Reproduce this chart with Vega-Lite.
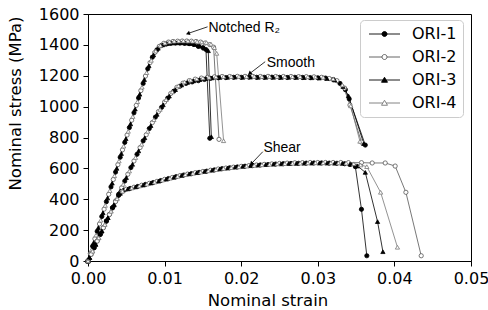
{
"$schema": "https://vega.github.io/schema/vega-lite/v6.json",
"width": 383, "height": 247,
"autosize": {"type": "none"},
"padding": {"left": 88, "top": 14, "right": 17, "bottom": 49},
"background": "white",
"config": {"view": {"stroke": "#000", "strokeWidth": 1}, "font": "DejaVu Sans"},
"datasets": {
"c": [
{"s":"N","o":"ORI-1","x":0,"y":0},{"s":"N","o":"ORI-1","x":0.0006,"y":96},{"s":"N","o":"ORI-1","x":0.0012,"y":192},{"s":"N","o":"ORI-1","x":0.0018,"y":288},{"s":"N","o":"ORI-1","x":0.0024,"y":384},{"s":"N","o":"ORI-1","x":0.003,"y":480},{"s":"N","o":"ORI-1","x":0.0036,"y":576},{"s":"N","o":"ORI-1","x":0.0042,"y":672},{"s":"N","o":"ORI-1","x":0.0048,"y":768},{"s":"N","o":"ORI-1","x":0.0054,"y":864},{"s":"N","o":"ORI-1","x":0.006,"y":960},{"s":"N","o":"ORI-1","x":0.0066,"y":1056},{"s":"N","o":"ORI-1","x":0.0072,"y":1150},{"s":"N","o":"ORI-1","x":0.0078,"y":1245},{"s":"N","o":"ORI-1","x":0.0084,"y":1320},{"s":"N","o":"ORI-1","x":0.009,"y":1368},{"s":"N","o":"ORI-1","x":0.0096,"y":1396},{"s":"N","o":"ORI-1","x":0.0102,"y":1405},{"s":"N","o":"ORI-1","x":0.0108,"y":1410},{"s":"N","o":"ORI-1","x":0.0114,"y":1412},{"s":"N","o":"ORI-1","x":0.012,"y":1412},{"s":"N","o":"ORI-1","x":0.0126,"y":1410},{"s":"N","o":"ORI-1","x":0.0132,"y":1408},{"s":"N","o":"ORI-1","x":0.0138,"y":1404},{"s":"N","o":"ORI-1","x":0.0144,"y":1390},{"s":"N","o":"ORI-1","x":0.015,"y":1382},{"s":"N","o":"ORI-1","x":0.0154,"y":1370},{"s":"N","o":"ORI-1","x":0.0159,"y":795},
{"s":"N","o":"ORI-2","x":0,"y":0},{"s":"N","o":"ORI-2","x":0.0003,"y":48},{"s":"N","o":"ORI-2","x":0.0009,"y":144},{"s":"N","o":"ORI-2","x":0.0015,"y":240},{"s":"N","o":"ORI-2","x":0.0021,"y":336},{"s":"N","o":"ORI-2","x":0.0027,"y":432},{"s":"N","o":"ORI-2","x":0.0033,"y":528},{"s":"N","o":"ORI-2","x":0.0039,"y":624},{"s":"N","o":"ORI-2","x":0.0045,"y":720},{"s":"N","o":"ORI-2","x":0.0051,"y":816},{"s":"N","o":"ORI-2","x":0.0057,"y":912},{"s":"N","o":"ORI-2","x":0.0063,"y":1008},{"s":"N","o":"ORI-2","x":0.0069,"y":1104},{"s":"N","o":"ORI-2","x":0.0075,"y":1198},{"s":"N","o":"ORI-2","x":0.0081,"y":1285},{"s":"N","o":"ORI-2","x":0.0087,"y":1350},{"s":"N","o":"ORI-2","x":0.0093,"y":1390},{"s":"N","o":"ORI-2","x":0.0099,"y":1410},{"s":"N","o":"ORI-2","x":0.0105,"y":1418},{"s":"N","o":"ORI-2","x":0.0111,"y":1422},{"s":"N","o":"ORI-2","x":0.0117,"y":1424},{"s":"N","o":"ORI-2","x":0.0123,"y":1425},{"s":"N","o":"ORI-2","x":0.0129,"y":1425},{"s":"N","o":"ORI-2","x":0.0135,"y":1424},{"s":"N","o":"ORI-2","x":0.0141,"y":1422},{"s":"N","o":"ORI-2","x":0.0147,"y":1418},{"s":"N","o":"ORI-2","x":0.0153,"y":1412},{"s":"N","o":"ORI-2","x":0.0159,"y":1402},{"s":"N","o":"ORI-2","x":0.0164,"y":1385},{"s":"N","o":"ORI-2","x":0.0171,"y":788},
{"s":"N","o":"ORI-3","x":0,"y":0},{"s":"N","o":"ORI-3","x":0.00015,"y":24},{"s":"N","o":"ORI-3","x":0.00075,"y":120},{"s":"N","o":"ORI-3","x":0.00135,"y":216},{"s":"N","o":"ORI-3","x":0.00195,"y":312},{"s":"N","o":"ORI-3","x":0.00255,"y":408},{"s":"N","o":"ORI-3","x":0.00315,"y":504},{"s":"N","o":"ORI-3","x":0.00375,"y":600},{"s":"N","o":"ORI-3","x":0.00435,"y":696},{"s":"N","o":"ORI-3","x":0.00495,"y":792},{"s":"N","o":"ORI-3","x":0.00555,"y":888},{"s":"N","o":"ORI-3","x":0.00615,"y":984},{"s":"N","o":"ORI-3","x":0.00675,"y":1080},{"s":"N","o":"ORI-3","x":0.00735,"y":1175},{"s":"N","o":"ORI-3","x":0.00795,"y":1265},{"s":"N","o":"ORI-3","x":0.00855,"y":1335},{"s":"N","o":"ORI-3","x":0.00915,"y":1378},{"s":"N","o":"ORI-3","x":0.00975,"y":1400},{"s":"N","o":"ORI-3","x":0.01035,"y":1408},{"s":"N","o":"ORI-3","x":0.01095,"y":1412},{"s":"N","o":"ORI-3","x":0.01155,"y":1413},{"s":"N","o":"ORI-3","x":0.01215,"y":1413},{"s":"N","o":"ORI-3","x":0.01275,"y":1411},{"s":"N","o":"ORI-3","x":0.01335,"y":1408},{"s":"N","o":"ORI-3","x":0.01395,"y":1402},{"s":"N","o":"ORI-3","x":0.0146,"y":1392},{"s":"N","o":"ORI-3","x":0.0152,"y":1378},{"s":"N","o":"ORI-3","x":0.0157,"y":1362},{"s":"N","o":"ORI-3","x":0.0161,"y":805},
{"s":"N","o":"ORI-4","x":0,"y":0},{"s":"N","o":"ORI-4","x":0.00045,"y":72},{"s":"N","o":"ORI-4","x":0.00105,"y":168},{"s":"N","o":"ORI-4","x":0.00165,"y":264},{"s":"N","o":"ORI-4","x":0.00225,"y":360},{"s":"N","o":"ORI-4","x":0.00285,"y":456},{"s":"N","o":"ORI-4","x":0.00345,"y":552},{"s":"N","o":"ORI-4","x":0.00405,"y":648},{"s":"N","o":"ORI-4","x":0.00465,"y":744},{"s":"N","o":"ORI-4","x":0.00525,"y":840},{"s":"N","o":"ORI-4","x":0.00585,"y":936},{"s":"N","o":"ORI-4","x":0.00645,"y":1032},{"s":"N","o":"ORI-4","x":0.00705,"y":1126},{"s":"N","o":"ORI-4","x":0.00765,"y":1220},{"s":"N","o":"ORI-4","x":0.00825,"y":1300},{"s":"N","o":"ORI-4","x":0.00885,"y":1360},{"s":"N","o":"ORI-4","x":0.00945,"y":1396},{"s":"N","o":"ORI-4","x":0.01005,"y":1412},{"s":"N","o":"ORI-4","x":0.01065,"y":1420},{"s":"N","o":"ORI-4","x":0.01125,"y":1424},{"s":"N","o":"ORI-4","x":0.01185,"y":1426},{"s":"N","o":"ORI-4","x":0.01245,"y":1426},{"s":"N","o":"ORI-4","x":0.01305,"y":1425},{"s":"N","o":"ORI-4","x":0.01365,"y":1424},{"s":"N","o":"ORI-4","x":0.01425,"y":1422},{"s":"N","o":"ORI-4","x":0.01485,"y":1419},{"s":"N","o":"ORI-4","x":0.01545,"y":1415},{"s":"N","o":"ORI-4","x":0.01605,"y":1405},{"s":"N","o":"ORI-4","x":0.0165,"y":1382},{"s":"N","o":"ORI-4","x":0.0168,"y":1345},{"s":"N","o":"ORI-4","x":0.0177,"y":779},
{"s":"S","o":"ORI-1","x":0,"y":0},{"s":"S","o":"ORI-1","x":0.0008,"y":86},{"s":"S","o":"ORI-1","x":0.0016,"y":173},{"s":"S","o":"ORI-1","x":0.0024,"y":259},{"s":"S","o":"ORI-1","x":0.0032,"y":346},{"s":"S","o":"ORI-1","x":0.004,"y":432},{"s":"S","o":"ORI-1","x":0.0048,"y":518},{"s":"S","o":"ORI-1","x":0.0056,"y":605},{"s":"S","o":"ORI-1","x":0.0064,"y":691},{"s":"S","o":"ORI-1","x":0.0072,"y":778},{"s":"S","o":"ORI-1","x":0.008,"y":858},{"s":"S","o":"ORI-1","x":0.0088,"y":932},{"s":"S","o":"ORI-1","x":0.0096,"y":995},{"s":"S","o":"ORI-1","x":0.0104,"y":1055},{"s":"S","o":"ORI-1","x":0.0112,"y":1100},{"s":"S","o":"ORI-1","x":0.012,"y":1132},{"s":"S","o":"ORI-1","x":0.0128,"y":1150},{"s":"S","o":"ORI-1","x":0.0136,"y":1160},{"s":"S","o":"ORI-1","x":0.0144,"y":1168},{"s":"S","o":"ORI-1","x":0.0152,"y":1176},{"s":"S","o":"ORI-1","x":0.016,"y":1183},{"s":"S","o":"ORI-1","x":0.017,"y":1187},{"s":"S","o":"ORI-1","x":0.018,"y":1188},{"s":"S","o":"ORI-1","x":0.019,"y":1190},{"s":"S","o":"ORI-1","x":0.02,"y":1190},{"s":"S","o":"ORI-1","x":0.021,"y":1191},{"s":"S","o":"ORI-1","x":0.022,"y":1190},{"s":"S","o":"ORI-1","x":0.023,"y":1190},{"s":"S","o":"ORI-1","x":0.024,"y":1191},{"s":"S","o":"ORI-1","x":0.025,"y":1190},{"s":"S","o":"ORI-1","x":0.026,"y":1189},{"s":"S","o":"ORI-1","x":0.027,"y":1190},{"s":"S","o":"ORI-1","x":0.028,"y":1189},{"s":"S","o":"ORI-1","x":0.029,"y":1188},{"s":"S","o":"ORI-1","x":0.03,"y":1187},{"s":"S","o":"ORI-1","x":0.031,"y":1185},{"s":"S","o":"ORI-1","x":0.032,"y":1176},{"s":"S","o":"ORI-1","x":0.0329,"y":1150},{"s":"S","o":"ORI-1","x":0.0336,"y":1110},{"s":"S","o":"ORI-1","x":0.0341,"y":1050},{"s":"S","o":"ORI-1","x":0.0362,"y":751},
{"s":"S","o":"ORI-2","x":0,"y":0},{"s":"S","o":"ORI-2","x":0.0004,"y":43},{"s":"S","o":"ORI-2","x":0.0012,"y":130},{"s":"S","o":"ORI-2","x":0.002,"y":216},{"s":"S","o":"ORI-2","x":0.0028,"y":302},{"s":"S","o":"ORI-2","x":0.0036,"y":389},{"s":"S","o":"ORI-2","x":0.0044,"y":475},{"s":"S","o":"ORI-2","x":0.0052,"y":562},{"s":"S","o":"ORI-2","x":0.006,"y":648},{"s":"S","o":"ORI-2","x":0.0068,"y":735},{"s":"S","o":"ORI-2","x":0.0076,"y":818},{"s":"S","o":"ORI-2","x":0.0084,"y":897},{"s":"S","o":"ORI-2","x":0.0092,"y":968},{"s":"S","o":"ORI-2","x":0.01,"y":1030},{"s":"S","o":"ORI-2","x":0.0108,"y":1085},{"s":"S","o":"ORI-2","x":0.0116,"y":1125},{"s":"S","o":"ORI-2","x":0.0124,"y":1152},{"s":"S","o":"ORI-2","x":0.0132,"y":1168},{"s":"S","o":"ORI-2","x":0.014,"y":1178},{"s":"S","o":"ORI-2","x":0.0148,"y":1185},{"s":"S","o":"ORI-2","x":0.0156,"y":1190},{"s":"S","o":"ORI-2","x":0.0165,"y":1193},{"s":"S","o":"ORI-2","x":0.0175,"y":1195},{"s":"S","o":"ORI-2","x":0.0185,"y":1195},{"s":"S","o":"ORI-2","x":0.0195,"y":1196},{"s":"S","o":"ORI-2","x":0.0205,"y":1196},{"s":"S","o":"ORI-2","x":0.0215,"y":1196},{"s":"S","o":"ORI-2","x":0.0225,"y":1195},{"s":"S","o":"ORI-2","x":0.0235,"y":1196},{"s":"S","o":"ORI-2","x":0.0245,"y":1195},{"s":"S","o":"ORI-2","x":0.0255,"y":1195},{"s":"S","o":"ORI-2","x":0.0265,"y":1195},{"s":"S","o":"ORI-2","x":0.0275,"y":1194},{"s":"S","o":"ORI-2","x":0.0285,"y":1194},{"s":"S","o":"ORI-2","x":0.0295,"y":1193},{"s":"S","o":"ORI-2","x":0.0305,"y":1190},{"s":"S","o":"ORI-2","x":0.0315,"y":1182},{"s":"S","o":"ORI-2","x":0.0325,"y":1168},{"s":"S","o":"ORI-2","x":0.0335,"y":1120},{"s":"S","o":"ORI-2","x":0.0342,"y":1010},{"s":"S","o":"ORI-2","x":0.0357,"y":770},
{"s":"S","o":"ORI-3","x":0,"y":0},{"s":"S","o":"ORI-3","x":0.0002,"y":22},{"s":"S","o":"ORI-3","x":0.001,"y":108},{"s":"S","o":"ORI-3","x":0.0018,"y":194},{"s":"S","o":"ORI-3","x":0.0026,"y":281},{"s":"S","o":"ORI-3","x":0.0034,"y":367},{"s":"S","o":"ORI-3","x":0.0042,"y":454},{"s":"S","o":"ORI-3","x":0.005,"y":540},{"s":"S","o":"ORI-3","x":0.0058,"y":626},{"s":"S","o":"ORI-3","x":0.0066,"y":713},{"s":"S","o":"ORI-3","x":0.0074,"y":798},{"s":"S","o":"ORI-3","x":0.0082,"y":877},{"s":"S","o":"ORI-3","x":0.009,"y":950},{"s":"S","o":"ORI-3","x":0.0098,"y":1012},{"s":"S","o":"ORI-3","x":0.0106,"y":1068},{"s":"S","o":"ORI-3","x":0.0114,"y":1110},{"s":"S","o":"ORI-3","x":0.0122,"y":1140},{"s":"S","o":"ORI-3","x":0.013,"y":1157},{"s":"S","o":"ORI-3","x":0.0138,"y":1167},{"s":"S","o":"ORI-3","x":0.0146,"y":1175},{"s":"S","o":"ORI-3","x":0.0154,"y":1182},{"s":"S","o":"ORI-3","x":0.0162,"y":1186},{"s":"S","o":"ORI-3","x":0.0172,"y":1189},{"s":"S","o":"ORI-3","x":0.0182,"y":1190},{"s":"S","o":"ORI-3","x":0.0192,"y":1191},{"s":"S","o":"ORI-3","x":0.0202,"y":1190},{"s":"S","o":"ORI-3","x":0.0212,"y":1191},{"s":"S","o":"ORI-3","x":0.0222,"y":1190},{"s":"S","o":"ORI-3","x":0.0232,"y":1190},{"s":"S","o":"ORI-3","x":0.0242,"y":1190},{"s":"S","o":"ORI-3","x":0.0252,"y":1189},{"s":"S","o":"ORI-3","x":0.0262,"y":1190},{"s":"S","o":"ORI-3","x":0.0272,"y":1189},{"s":"S","o":"ORI-3","x":0.0282,"y":1188},{"s":"S","o":"ORI-3","x":0.0292,"y":1187},{"s":"S","o":"ORI-3","x":0.0302,"y":1185},{"s":"S","o":"ORI-3","x":0.0312,"y":1182},{"s":"S","o":"ORI-3","x":0.0322,"y":1172},{"s":"S","o":"ORI-3","x":0.0333,"y":1130},{"s":"S","o":"ORI-3","x":0.034,"y":1070},{"s":"S","o":"ORI-3","x":0.036,"y":760},
{"s":"S","o":"ORI-4","x":0,"y":0},{"s":"S","o":"ORI-4","x":0.0006,"y":65},{"s":"S","o":"ORI-4","x":0.0014,"y":151},{"s":"S","o":"ORI-4","x":0.0022,"y":238},{"s":"S","o":"ORI-4","x":0.003,"y":324},{"s":"S","o":"ORI-4","x":0.0038,"y":410},{"s":"S","o":"ORI-4","x":0.0046,"y":497},{"s":"S","o":"ORI-4","x":0.0054,"y":583},{"s":"S","o":"ORI-4","x":0.0062,"y":670},{"s":"S","o":"ORI-4","x":0.007,"y":756},{"s":"S","o":"ORI-4","x":0.0078,"y":840},{"s":"S","o":"ORI-4","x":0.0086,"y":915},{"s":"S","o":"ORI-4","x":0.0094,"y":982},{"s":"S","o":"ORI-4","x":0.0102,"y":1045},{"s":"S","o":"ORI-4","x":0.011,"y":1095},{"s":"S","o":"ORI-4","x":0.0118,"y":1135},{"s":"S","o":"ORI-4","x":0.0126,"y":1160},{"s":"S","o":"ORI-4","x":0.0134,"y":1172},{"s":"S","o":"ORI-4","x":0.0142,"y":1180},{"s":"S","o":"ORI-4","x":0.015,"y":1186},{"s":"S","o":"ORI-4","x":0.0158,"y":1190},{"s":"S","o":"ORI-4","x":0.0167,"y":1193},{"s":"S","o":"ORI-4","x":0.0177,"y":1195},{"s":"S","o":"ORI-4","x":0.0187,"y":1195},{"s":"S","o":"ORI-4","x":0.0197,"y":1196},{"s":"S","o":"ORI-4","x":0.0207,"y":1195},{"s":"S","o":"ORI-4","x":0.0217,"y":1196},{"s":"S","o":"ORI-4","x":0.0227,"y":1195},{"s":"S","o":"ORI-4","x":0.0237,"y":1195},{"s":"S","o":"ORI-4","x":0.0247,"y":1195},{"s":"S","o":"ORI-4","x":0.0257,"y":1194},{"s":"S","o":"ORI-4","x":0.0267,"y":1194},{"s":"S","o":"ORI-4","x":0.0277,"y":1194},{"s":"S","o":"ORI-4","x":0.0287,"y":1193},{"s":"S","o":"ORI-4","x":0.0297,"y":1192},{"s":"S","o":"ORI-4","x":0.0307,"y":1190},{"s":"S","o":"ORI-4","x":0.032,"y":1180},{"s":"S","o":"ORI-4","x":0.0332,"y":1140},{"s":"S","o":"ORI-4","x":0.0343,"y":1005},{"s":"S","o":"ORI-4","x":0.0355,"y":775},
{"s":"H","o":"ORI-1","x":0,"y":0},{"s":"H","o":"ORI-1","x":0.0008,"y":86},{"s":"H","o":"ORI-1","x":0.0016,"y":172},{"s":"H","o":"ORI-1","x":0.0024,"y":258},{"s":"H","o":"ORI-1","x":0.0032,"y":344},{"s":"H","o":"ORI-1","x":0.004,"y":425},{"s":"H","o":"ORI-1","x":0.0047,"y":458},{"s":"H","o":"ORI-1","x":0.0055,"y":470},{"s":"H","o":"ORI-1","x":0.0065,"y":483},{"s":"H","o":"ORI-1","x":0.0075,"y":496},{"s":"H","o":"ORI-1","x":0.0085,"y":508},{"s":"H","o":"ORI-1","x":0.0095,"y":521},{"s":"H","o":"ORI-1","x":0.0105,"y":534},{"s":"H","o":"ORI-1","x":0.0115,"y":546},{"s":"H","o":"ORI-1","x":0.0125,"y":557},{"s":"H","o":"ORI-1","x":0.0135,"y":566},{"s":"H","o":"ORI-1","x":0.0145,"y":574},{"s":"H","o":"ORI-1","x":0.0155,"y":582},{"s":"H","o":"ORI-1","x":0.0165,"y":590},{"s":"H","o":"ORI-1","x":0.0175,"y":598},{"s":"H","o":"ORI-1","x":0.0185,"y":604},{"s":"H","o":"ORI-1","x":0.0195,"y":609},{"s":"H","o":"ORI-1","x":0.0205,"y":614},{"s":"H","o":"ORI-1","x":0.0215,"y":618},{"s":"H","o":"ORI-1","x":0.0225,"y":622},{"s":"H","o":"ORI-1","x":0.0235,"y":625},{"s":"H","o":"ORI-1","x":0.0245,"y":628},{"s":"H","o":"ORI-1","x":0.0255,"y":630},{"s":"H","o":"ORI-1","x":0.0265,"y":632},{"s":"H","o":"ORI-1","x":0.0275,"y":633},{"s":"H","o":"ORI-1","x":0.0285,"y":634},{"s":"H","o":"ORI-1","x":0.0295,"y":635},{"s":"H","o":"ORI-1","x":0.0305,"y":635},{"s":"H","o":"ORI-1","x":0.0315,"y":634},{"s":"H","o":"ORI-1","x":0.0325,"y":633},{"s":"H","o":"ORI-1","x":0.0335,"y":630},{"s":"H","o":"ORI-1","x":0.0342,"y":625},{"s":"H","o":"ORI-1","x":0.0349,"y":611},{"s":"H","o":"ORI-1","x":0.0357,"y":335},{"s":"H","o":"ORI-1","x":0.0364,"y":34},
{"s":"H","o":"ORI-2","x":0,"y":0},{"s":"H","o":"ORI-2","x":0.0004,"y":43},{"s":"H","o":"ORI-2","x":0.0012,"y":129},{"s":"H","o":"ORI-2","x":0.002,"y":215},{"s":"H","o":"ORI-2","x":0.0028,"y":301},{"s":"H","o":"ORI-2","x":0.0036,"y":385},{"s":"H","o":"ORI-2","x":0.0044,"y":448},{"s":"H","o":"ORI-2","x":0.005,"y":465},{"s":"H","o":"ORI-2","x":0.006,"y":478},{"s":"H","o":"ORI-2","x":0.007,"y":491},{"s":"H","o":"ORI-2","x":0.008,"y":503},{"s":"H","o":"ORI-2","x":0.009,"y":516},{"s":"H","o":"ORI-2","x":0.01,"y":529},{"s":"H","o":"ORI-2","x":0.011,"y":541},{"s":"H","o":"ORI-2","x":0.012,"y":553},{"s":"H","o":"ORI-2","x":0.013,"y":563},{"s":"H","o":"ORI-2","x":0.014,"y":572},{"s":"H","o":"ORI-2","x":0.015,"y":580},{"s":"H","o":"ORI-2","x":0.016,"y":588},{"s":"H","o":"ORI-2","x":0.017,"y":596},{"s":"H","o":"ORI-2","x":0.018,"y":602},{"s":"H","o":"ORI-2","x":0.019,"y":608},{"s":"H","o":"ORI-2","x":0.02,"y":613},{"s":"H","o":"ORI-2","x":0.021,"y":618},{"s":"H","o":"ORI-2","x":0.022,"y":622},{"s":"H","o":"ORI-2","x":0.023,"y":626},{"s":"H","o":"ORI-2","x":0.024,"y":629},{"s":"H","o":"ORI-2","x":0.025,"y":632},{"s":"H","o":"ORI-2","x":0.026,"y":634},{"s":"H","o":"ORI-2","x":0.027,"y":636},{"s":"H","o":"ORI-2","x":0.028,"y":637},{"s":"H","o":"ORI-2","x":0.029,"y":638},{"s":"H","o":"ORI-2","x":0.03,"y":638},{"s":"H","o":"ORI-2","x":0.031,"y":638},{"s":"H","o":"ORI-2","x":0.032,"y":638},{"s":"H","o":"ORI-2","x":0.033,"y":638},{"s":"H","o":"ORI-2","x":0.034,"y":637},{"s":"H","o":"ORI-2","x":0.0357,"y":637},{"s":"H","o":"ORI-2","x":0.0371,"y":635},{"s":"H","o":"ORI-2","x":0.0388,"y":635},{"s":"H","o":"ORI-2","x":0.0401,"y":615},{"s":"H","o":"ORI-2","x":0.0415,"y":445},{"s":"H","o":"ORI-2","x":0.0435,"y":34},
{"s":"H","o":"ORI-3","x":0,"y":0},{"s":"H","o":"ORI-3","x":0.0002,"y":22},{"s":"H","o":"ORI-3","x":0.001,"y":108},{"s":"H","o":"ORI-3","x":0.0018,"y":194},{"s":"H","o":"ORI-3","x":0.0026,"y":280},{"s":"H","o":"ORI-3","x":0.0034,"y":362},{"s":"H","o":"ORI-3","x":0.0042,"y":438},{"s":"H","o":"ORI-3","x":0.0052,"y":467},{"s":"H","o":"ORI-3","x":0.0062,"y":480},{"s":"H","o":"ORI-3","x":0.0072,"y":492},{"s":"H","o":"ORI-3","x":0.0082,"y":505},{"s":"H","o":"ORI-3","x":0.0092,"y":517},{"s":"H","o":"ORI-3","x":0.0102,"y":530},{"s":"H","o":"ORI-3","x":0.0112,"y":542},{"s":"H","o":"ORI-3","x":0.0122,"y":554},{"s":"H","o":"ORI-3","x":0.0132,"y":564},{"s":"H","o":"ORI-3","x":0.0142,"y":572},{"s":"H","o":"ORI-3","x":0.0152,"y":580},{"s":"H","o":"ORI-3","x":0.0162,"y":588},{"s":"H","o":"ORI-3","x":0.0172,"y":596},{"s":"H","o":"ORI-3","x":0.0182,"y":602},{"s":"H","o":"ORI-3","x":0.0192,"y":608},{"s":"H","o":"ORI-3","x":0.0202,"y":613},{"s":"H","o":"ORI-3","x":0.0212,"y":617},{"s":"H","o":"ORI-3","x":0.0222,"y":621},{"s":"H","o":"ORI-3","x":0.0232,"y":624},{"s":"H","o":"ORI-3","x":0.0242,"y":627},{"s":"H","o":"ORI-3","x":0.0252,"y":629},{"s":"H","o":"ORI-3","x":0.0262,"y":631},{"s":"H","o":"ORI-3","x":0.0272,"y":632},{"s":"H","o":"ORI-3","x":0.0282,"y":633},{"s":"H","o":"ORI-3","x":0.0292,"y":634},{"s":"H","o":"ORI-3","x":0.0302,"y":634},{"s":"H","o":"ORI-3","x":0.0312,"y":634},{"s":"H","o":"ORI-3","x":0.0322,"y":633},{"s":"H","o":"ORI-3","x":0.0332,"y":632},{"s":"H","o":"ORI-3","x":0.0342,"y":628},{"s":"H","o":"ORI-3","x":0.0352,"y":615},{"s":"H","o":"ORI-3","x":0.0362,"y":574},{"s":"H","o":"ORI-3","x":0.0378,"y":255},{"s":"H","o":"ORI-3","x":0.0385,"y":60},
{"s":"H","o":"ORI-4","x":0,"y":0},{"s":"H","o":"ORI-4","x":0.0006,"y":64},{"s":"H","o":"ORI-4","x":0.0014,"y":150},{"s":"H","o":"ORI-4","x":0.0022,"y":236},{"s":"H","o":"ORI-4","x":0.003,"y":322},{"s":"H","o":"ORI-4","x":0.0038,"y":403},{"s":"H","o":"ORI-4","x":0.0045,"y":452},{"s":"H","o":"ORI-4","x":0.0057,"y":473},{"s":"H","o":"ORI-4","x":0.0067,"y":486},{"s":"H","o":"ORI-4","x":0.0077,"y":498},{"s":"H","o":"ORI-4","x":0.0087,"y":511},{"s":"H","o":"ORI-4","x":0.0097,"y":524},{"s":"H","o":"ORI-4","x":0.0107,"y":536},{"s":"H","o":"ORI-4","x":0.0117,"y":548},{"s":"H","o":"ORI-4","x":0.0127,"y":559},{"s":"H","o":"ORI-4","x":0.0137,"y":568},{"s":"H","o":"ORI-4","x":0.0147,"y":576},{"s":"H","o":"ORI-4","x":0.0157,"y":584},{"s":"H","o":"ORI-4","x":0.0167,"y":592},{"s":"H","o":"ORI-4","x":0.0177,"y":599},{"s":"H","o":"ORI-4","x":0.0187,"y":605},{"s":"H","o":"ORI-4","x":0.0197,"y":610},{"s":"H","o":"ORI-4","x":0.0207,"y":615},{"s":"H","o":"ORI-4","x":0.0217,"y":619},{"s":"H","o":"ORI-4","x":0.0227,"y":623},{"s":"H","o":"ORI-4","x":0.0237,"y":626},{"s":"H","o":"ORI-4","x":0.0247,"y":629},{"s":"H","o":"ORI-4","x":0.0257,"y":631},{"s":"H","o":"ORI-4","x":0.0267,"y":633},{"s":"H","o":"ORI-4","x":0.0277,"y":634},{"s":"H","o":"ORI-4","x":0.0287,"y":635},{"s":"H","o":"ORI-4","x":0.0297,"y":636},{"s":"H","o":"ORI-4","x":0.0307,"y":636},{"s":"H","o":"ORI-4","x":0.0317,"y":636},{"s":"H","o":"ORI-4","x":0.0327,"y":635},{"s":"H","o":"ORI-4","x":0.0337,"y":634},{"s":"H","o":"ORI-4","x":0.0347,"y":630},{"s":"H","o":"ORI-4","x":0.0356,"y":622},{"s":"H","o":"ORI-4","x":0.0364,"y":611},{"s":"H","o":"ORI-4","x":0.0382,"y":445},{"s":"H","o":"ORI-4","x":0.0404,"y":89}
],
"a": [
{"k":"N","p":"text","label":"Notched R₂","x":0.01572,"y":1481},
{"k":"S","p":"text","label":"Smooth","x":0.02334,"y":1258},
{"k":"H","p":"text","label":"Shear","x":0.0229,"y":708},
{"k":"N","p":"line","x":0.01561,"y":1517,"xe":0.01312,"ye":1475},
{"k":"S","p":"line","x":0.02313,"y":1291,"xe":0.02116,"ye":1216},
{"k":"H","p":"line","x":0.02282,"y":708,"xe":0.02138,"ye":633},
{"k":"N","p":"head","x":0.01312,"y":1475},
{"k":"S","p":"head","x":0.02116,"y":1216},
{"k":"H","p":"head","x":0.02138,"y":633}
]
},
"encoding": {
"x": {"field": "x", "type": "quantitative", "scale": {"domain": [0, 0.05], "nice": false},
 "axis": {"title": "Nominal strain", "values": [0, 0.01, 0.02, 0.03, 0.04, 0.05], "format": ".2f", "grid": false, "labelOverlap": false,
  "labelFont": "DejaVu Sans", "labelFontSize": 16, "labelColor": "#000", "labelPadding": 4.5, "tickSize": 5, "tickColor": "#000", "tickWidth": 1,
  "domainColor": "#000", "domainWidth": 1, "titleFont": "DejaVu Sans", "titleFontSize": 16.5, "titleFontWeight": "normal", "titleColor": "#000",
  "titleX": 179.5, "titleY": 44, "titleBaseline": "alphabetic", "titleAlign": "center", "labelFlush": false}},
"y": {"field": "y", "type": "quantitative", "scale": {"domain": [0, 1600], "nice": false},
 "axis": {"title": "Nominal stress (MPa)", "values": [0, 200, 400, 600, 800, 1000, 1200, 1400, 1600], "format": "d", "grid": false, "labelOverlap": false,
  "labelFont": "DejaVu Sans", "labelFontSize": 16, "labelColor": "#000", "labelPadding": 4, "tickSize": 5, "tickColor": "#000", "tickWidth": 1,
  "domainColor": "#000", "domainWidth": 1, "titleFont": "DejaVu Sans", "titleFontSize": 16.5, "titleFontWeight": "normal", "titleColor": "#000",
  "titleX": -67.5, "titleY": 89, "titleBaseline": "alphabetic", "titleAlign": "center", "titleAngle": -90, "labelFlush": false}}
},
"layer": [
{
"data": {"name": "c"},
"mark": {"type": "line", "strokeWidth": 0.8},
"encoding": {
"detail": {"field": "s"},
"color": {"field": "o", "type": "nominal",
 "scale": {"domain": ["ORI-1", "ORI-2", "ORI-3", "ORI-4"], "range": ["#000000", "#555555", "#000000", "#777777"]},
 "legend": {"title": null, "orient": "none", "legendX": 272, "legendY": 6, "padding": 6, "rowPadding": 7,
  "symbolSize": 100, "labelOffset": 30, "labelFont": "DejaVu Sans", "labelFontSize": 16, "labelColor": "#000",
  "strokeColor": "#cccccc", "fillColor": "#ffffff", "cornerRadius": 4,
  "encode": {"symbols": {"update": {
   "shape": {"signal": "datum.value === 'ORI-1' ? 'M-1,0H5.2M2.6,0A0.5,0.5,0,1,1,1.6,0A0.5,0.5,0,1,1,2.6,0Z' : datum.value === 'ORI-2' ? 'M-1,0H1.6M2.6,0H5.2M2.6,0A0.5,0.5,0,1,1,1.6,0A0.5,0.5,0,1,1,2.6,0Z' : datum.value === 'ORI-3' ? 'M-1,0H5.2M2.1,-0.55L2.7,0.45L1.5,0.45Z' : 'M-1,0H1.77M2.43,0H5.2M2.1,-0.55L2.7,0.45L1.5,0.45Z'"},
   "fill": {"signal": "datum.value === 'ORI-1' || datum.value === 'ORI-3' ? '#000000' : '#ffffff'"},
   "stroke": {"signal": "datum.value === 'ORI-2' ? '#555555' : datum.value === 'ORI-4' ? '#777777' : '#000000'"},
   "strokeWidth": {"value": 0.9},
   "size": {"value": 100},
   "opacity": {"value": 1}
  }}}}}
}
},
{
"data": {"name": "c"},
"mark": {"type": "point", "size": 18, "strokeWidth": 0.8, "opacity": 1},
"encoding": {
"shape": {"field": "o", "type": "nominal", "scale": {"domain": ["ORI-1", "ORI-2", "ORI-3", "ORI-4"], "range": ["circle", "circle", "triangle-up", "triangle-up"]}, "legend": null},
"fill": {"field": "o", "type": "nominal", "scale": {"domain": ["ORI-1", "ORI-2", "ORI-3", "ORI-4"], "range": ["#000000", "#ffffff", "#000000", "#ffffff"]}, "legend": null},
"stroke": {"field": "o", "type": "nominal", "scale": {"domain": ["ORI-1", "ORI-2", "ORI-3", "ORI-4"], "range": ["#000000", "#555555", "#000000", "#777777"]}, "legend": null}
}
},
{
"data": {"name": "a"},
"transform": [{"filter": "datum.p === 'line'"}],
"mark": {"type": "rule", "color": "#000", "strokeWidth": 0.8},
"encoding": {"x2": {"field": "xe"}, "y2": {"field": "ye"}}
},
{
"data": {"name": "a"},
"transform": [{"filter": "datum.p === 'head' && datum.k === 'N'"}],
"mark": {"type": "point", "shape": "triangle", "filled": true, "color": "#000", "size": 22, "angle": 251, "opacity": 1}
},
{
"data": {"name": "a"},
"transform": [{"filter": "datum.p === 'head' && datum.k === 'S'"}],
"mark": {"type": "point", "shape": "triangle", "filled": true, "color": "#000", "size": 22, "angle": 232, "opacity": 1}
},
{
"data": {"name": "a"},
"transform": [{"filter": "datum.p === 'head' && datum.k === 'H'"}],
"mark": {"type": "point", "shape": "triangle", "filled": true, "color": "#000", "size": 22, "angle": 223, "opacity": 1}
},
{
"data": {"name": "a"},
"transform": [{"filter": "datum.p === 'text'"}],
"mark": {"type": "text", "align": "left", "baseline": "alphabetic", "font": "Liberation Sans", "fontSize": 14, "color": "#000"},
"encoding": {"text": {"field": "label"}}
}
],
"resolve": {"scale": {"color": "independent"}}
}
